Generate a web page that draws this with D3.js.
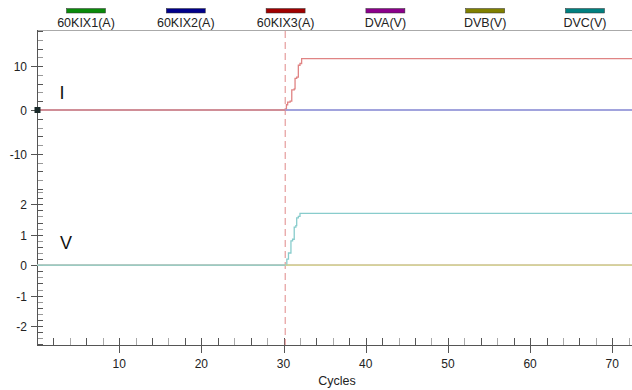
<!DOCTYPE html>
<html>
<head>
<meta charset="utf-8">
<script src="https://cdn.jsdelivr.net/npm/d3@7"></script>
<style>
  body { margin: 0; background: #fff; }
  svg { font-family: "Liberation Sans", Arial, sans-serif; }
</style>
</head>
<body>
<div id="chart"></div>
<script>
// legend names and colours
const seriesNames = ["60KIX1(A)", "60KIX2(A)", "60KIX3(A)", "DVA(V)", "DVB(V)", "DVC(V)"];
const seriesColors = ["#0a8a0a", "#00008b", "#a00000", "#8b008b", "#808000", "#008080"];
// the traces are drawn in paler tints of the legend colours
const traceColors = ["#88c488", "#a0a0e0", "#e08484", "#cc88cc", "#d4d494", "#88cccc"];

// x range in cycles
const cycleMax = 72.4;
const faultCycle = 30.2;

// current panel (A), [cycle, value]
const kix1 = [[0, 0], [72.4, 0]];
const kix2 = [[0, 0], [72.4, 0]];
const kix3 = [[0, 0], [30.2, 0], [30.35, 1.2], [30.5, 1.8], [30.8, 2.0], [31.0, 4.6], [31.3, 4.8],
              [31.4, 7.2], [31.6, 7.5], [31.8, 10.2], [32.0, 10.6], [32.2, 11.7], [72.4, 11.7]];

// voltage panel (V)
const dva = [[0, 0], [72.4, 0]];
const dvb = [[0, 0], [72.4, 0]];
const dvc = [[0, 0], [30.2, 0], [30.4, 0.2], [30.6, 0.4], [30.9, 0.8], [31.1, 0.85],
             [31.3, 1.25], [31.5, 1.3], [31.6, 1.55], [31.8, 1.6], [32.0, 1.7], [72.4, 1.7]];

const iTicks = [-10, 0, 10];
const vTicks = [-2, -1, 0, 1, 2];
const xTicks = [10, 20, 30, 40, 50, 60, 70];

const W = 632, H = 390;
const svg = d3.select("#chart").append("svg").attr("width", W).attr("height", H);

const x = d3.scaleLinear().domain([0, cycleMax]).range([37, 632]);
const yI = d3.scaleLinear().domain([-18, 18]).range([189, 31]);
const yV = d3.scaleLinear().domain([-2.62, 2.5]).range([345, 189]);

// legend
const legend = svg.append("g");
seriesNames.forEach((name, i) => {
  const cx = 86 + i * 99.8;
  legend.append("rect")
    .attr("x", cx - 19.5).attr("y", 8.5).attr("width", 39).attr("height", 4.5)
    .attr("fill", seriesColors[i]).attr("stroke", "#333").attr("stroke-width", 0.5);
  legend.append("text")
    .attr("x", cx).attr("y", 27).attr("text-anchor", "middle")
    .attr("font-size", "12.5px").attr("fill", "#222").text(name);
});

// frame lines
svg.append("line").attr("x1", 37).attr("x2", 632).attr("y1", 30.5).attr("y2", 30.5)
  .attr("stroke", "#aaa");
svg.append("line").attr("x1", 37.5).attr("x2", 37.5).attr("y1", 30).attr("y2", 345)
  .attr("stroke", "#555");
svg.append("line").attr("x1", 37).attr("x2", 632).attr("y1", 345.5).attr("y2", 345.5)
  .attr("stroke", "#555");

// y ticks
function yAxisTicks(scale, minorStep, lo, hi, labels) {
  const g = svg.append("g");
  const n = Math.round((hi - lo) / minorStep);
  for (let k = 0; k <= n; k++) {
    const v = lo + k * minorStep;
    const yy = Math.round(scale(v)) + 0.5;
    g.append("line").attr("x1", 38).attr("x2", 43).attr("y1", yy).attr("y2", yy)
      .attr("stroke", k % 2 ? "#999" : "#555");
  }
  labels.forEach(v => {
    const yy = Math.round(scale(v)) + 0.5;
    g.append("line").attr("x1", 31).attr("x2", 43).attr("y1", yy).attr("y2", yy)
      .attr("stroke", "#555");
    g.append("text").attr("x", 27).attr("y", yy + 4.5).attr("text-anchor", "end")
      .attr("font-size", "12px").attr("fill", "#222").text(v);
  });
}
yAxisTicks(yI, 2, -18, 18, iTicks);
yAxisTicks(yV, 0.2, -2.6, 2.4, vTicks);

// x ticks
const xg = svg.append("g");
for (let c = 2; c <= 72; c += 2) {
  const xx = Math.round(x(c)) + 0.5;
  const major = c % 10 === 0;
  xg.append("line").attr("x1", xx).attr("x2", xx)
    .attr("y1", 338).attr("y2", major ? 353 : 345)
    .attr("stroke", (c % 4 === 0 && !major) ? "#aaa" : "#555");
}
xTicks.forEach(c => {
  xg.append("text").attr("x", x(c)).attr("y", 368).attr("text-anchor", "middle")
    .attr("font-size", "12px").attr("fill", "#222").text(c);
});
svg.append("text").attr("x", 337).attr("y", 385).attr("text-anchor", "middle")
  .attr("font-size", "12.5px").attr("fill", "#222").text("Cycles");

// panel labels
svg.append("text").attr("x", 62).attr("y", 99).attr("text-anchor", "middle")
  .attr("font-size", "18px").attr("fill", "#111").text("I");
svg.append("text").attr("x", 66).attr("y", 249).attr("text-anchor", "middle")
  .attr("font-size", "18px").attr("fill", "#111").text("V");

// fault marker
svg.append("line").attr("x1", x(faultCycle)).attr("x2", x(faultCycle))
  .attr("y1", 31).attr("y2", 345)
  .attr("stroke", "#e08888").attr("stroke-dasharray", "7,4").attr("stroke-width", 1);

// traces
function trace(data, yScale, color) {
  const line = d3.line().x(d => x(d[0])).y(d => yScale(d[1])).curve(d3.curveStepAfter);
  svg.append("path").datum(data).attr("d", line)
    .attr("fill", "none").attr("stroke", color).attr("stroke-width", 1.3);
}
trace(kix1, yI, traceColors[0]);
trace(kix2, yI, traceColors[1]);
trace(kix3, yI, traceColors[2]);
// blue sits on top of the red baseline once the red trace has left zero
trace(kix2.map(d => [Math.max(d[0], faultCycle), d[1]]), yI, traceColors[1]);

trace(dva, yV, traceColors[3]);
trace(dvb, yV, traceColors[4]);
trace(dvc, yV, traceColors[5]);
trace(dvb.map(d => [Math.max(d[0], faultCycle), d[1]]), yV, traceColors[4]);

// origin marker
svg.append("rect").attr("x", 34.5).attr("y", yI(0) - 3).attr("width", 6).attr("height", 6)
  .attr("fill", "#1a2a2a");
</script>
</body>
</html>
